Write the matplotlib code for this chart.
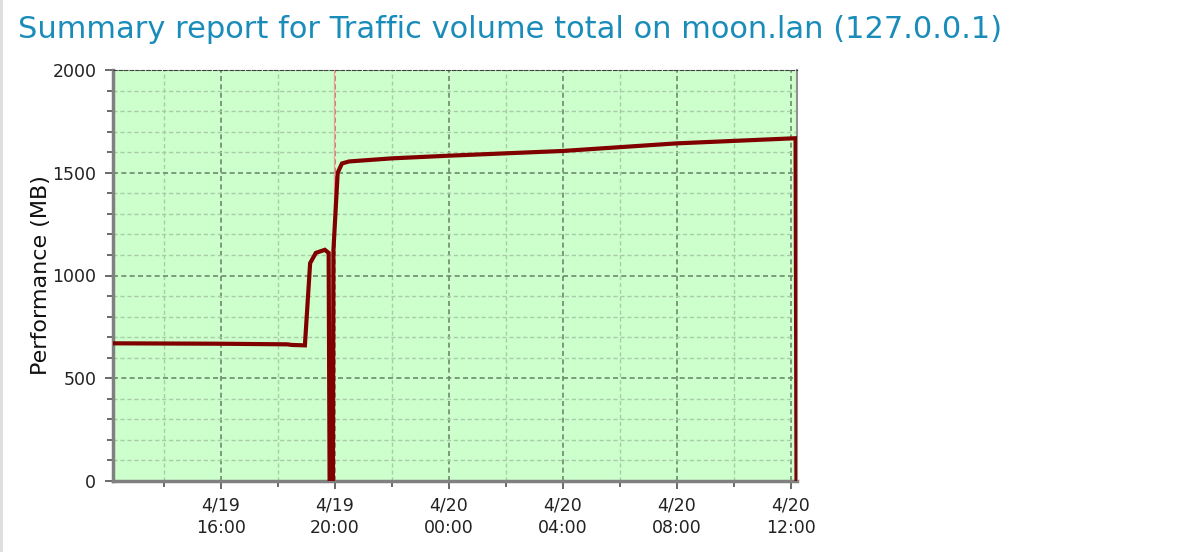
import numpy as np
import pandas as pd
import matplotlib
matplotlib.use('Agg')
from matplotlib import pyplot as plt
import matplotlib.dates as mdates
from matplotlib.ticker import MultipleLocator
from matplotlib.lines import Line2D

# Tidspunkt og verdier lest av bildet
tider = ['2019-04-19 12:13', '2019-04-19 16:00', '2019-04-19 18:20',
         '2019-04-19 18:30', '2019-04-19 18:57', '2019-04-19 19:08',
         '2019-04-19 19:20', '2019-04-19 19:39', '2019-04-19 19:47',
         '2019-04-19 19:49', '2019-04-19 19:56', '2019-04-19 19:57',
         '2019-04-19 20:06', '2019-04-19 20:15', '2019-04-19 20:30',
         '2019-04-19 22:00', '2019-04-20 00:00', '2019-04-20 04:00',
         '2019-04-20 08:00', '2019-04-20 12:10', '2019-04-20 12:12']
verdier = [670, 668, 665, 662, 660, 1060, 1110, 1125, 1110, 0, 0, 1120,
           1500, 1545, 1555, 1570, 1583, 1606, 1643, 1668, 0]

markor_tid = '2019-04-19 19:58'
x_start, x_slutt = '2019-04-19 12:13', '2019-04-20 12:13'

tid = pd.to_datetime(tider)

fig = plt.figure(figsize=(11.96, 5.52), dpi=100)
ax = fig.add_axes([113/1196, 1-481/552, (797-113)/1196, (481-70)/552])
ax.set_facecolor('#ccffcc')

ax.axvline(pd.to_datetime(markor_tid), color='#ff9999', lw=1, zorder=2)
ax.plot(tid, verdier, color='#800000', lw=3, zorder=3, solid_joinstyle='miter')

ax.set_xlim(pd.to_datetime(x_start), pd.to_datetime(x_slutt))
ax.set_ylim(0, 2000)

ax.xaxis.set_major_locator(mdates.HourLocator(byhour=[0, 4, 8, 12, 16, 20]))
ax.xaxis.set_minor_locator(mdates.HourLocator(byhour=[2, 6, 10, 14, 18, 22]))
ax.xaxis.set_major_formatter(mdates.DateFormatter('%-m/%d\n%H:%M'))
ax.yaxis.set_major_locator(MultipleLocator(500))
ax.yaxis.set_minor_locator(MultipleLocator(100))

ax.grid(which='major', color='#6b8a6b', ls=(0, (3, 2)), lw=1.2, zorder=1)
ax.grid(which='minor', color='#a8cca8', ls=(0, (3, 2)), lw=1, zorder=1)

for side in ['left', 'bottom']:
    ax.spines[side].set_color('#808080')
    ax.spines[side].set_linewidth(2.5)
ax.spines['top'].set_color('#404040')
ax.spines['top'].set_linestyle((0, (3, 2)))
ax.spines['right'].set_color('#909090')
ax.spines['right'].set_linewidth(1.5)

ax.tick_params(which='both', colors='#505050', labelcolor='#222222', labelsize=12.5)
ax.tick_params(which='major', length=6, width=1.2)
ax.tick_params(which='minor', length=4, width=1.2)
ax.tick_params(axis='x', pad=5)
ax.tick_params(axis='y', pad=6)
for lab in ax.get_xticklabels():
    lab.set_horizontalalignment('center')
    lab.set_linespacing(1.35)

ax.set_ylabel('Performance (MB)', fontsize=16, color='#111111', labelpad=1)

fig.text(18/1196, 1-29/552, 'Summary report for Traffic volume total on moon.lan (127.0.0.1)',
         fontsize=22, color='#1a8cba', va='center', ha='left')

fig.add_artist(Line2D([0.001, 0.001], [0, 1], color='#dddddd', lw=2))

fig.savefig('out.png', dpi=100)
